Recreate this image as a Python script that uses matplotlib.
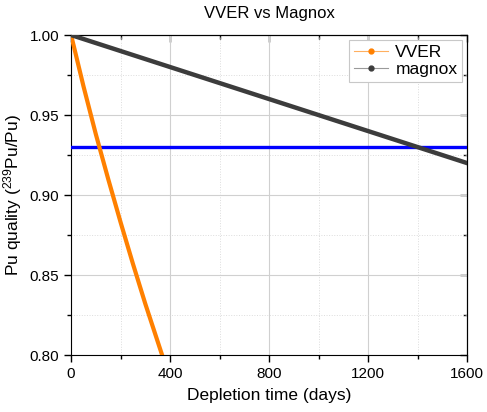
import numpy as np
import matplotlib.pyplot as plt
from matplotlib.ticker import MultipleLocator
from matplotlib.lines import Line2D

plt.rcParams['font.family'] = ['Liberation Sans', 'DejaVu Sans']
plt.rcParams['mathtext.default'] = 'regular'

# data
vver_days = [0, 50, 100, 150, 200, 250, 300, 370]
vver_quality = [1.0, 0.968, 0.938, 0.910, 0.883, 0.857, 0.832, 0.799]
magnox_days = [0, 200, 400, 600, 800, 1000, 1200, 1400, 1600]
magnox_quality = [1.0, 0.990, 0.980, 0.970, 0.960, 0.950, 0.940, 0.930, 0.920]
threshold = 0.93

fig = plt.figure(figsize=(4.87, 4.12), dpi=100)
ax = fig.add_axes([0.146, 0.138, 0.813, 0.777])

ax.axhline(threshold, color="#0000FF", lw=2.4, zorder=3)
ax.plot(vver_days, vver_quality, color="#FF8000", lw=3.0, zorder=4)
ax.plot(magnox_days, magnox_quality, color="#3C3C3C", lw=3.2, zorder=4)

ax.set_xlim(0, 1600)
ax.set_ylim(0.80, 1.00)
ax.xaxis.set_major_locator(MultipleLocator(400))
ax.xaxis.set_minor_locator(MultipleLocator(200))
ax.yaxis.set_major_locator(MultipleLocator(0.05))
ax.yaxis.set_minor_locator(MultipleLocator(0.025))
ax.yaxis.set_major_formatter(plt.FormatStrFormatter("%.2f"))

ax.grid(True, which="major", color="#d0d0d0", lw=0.8)
ax.grid(True, which="minor", color="#dcdcdc", lw=0.7, ls=":")
ax.set_axisbelow(True)

ax.tick_params(which="both", direction="out", labelsize=11, top=False, right=False)
ax.tick_params(which="major", length=5, width=1)
ax.tick_params(which="minor", length=3, width=1)
ax2 = ax.secondary_xaxis("top")
ax2.set_xticks(np.arange(0, 1601, 400))
ax2.xaxis.set_minor_locator(MultipleLocator(200))
ax2.tick_params(which="both", direction="in", labeltop=False)
ax2.tick_params(which="major", length=5, width=1)
ax2.tick_params(which="minor", length=3, width=1)
ay2 = ax.secondary_yaxis("right")
ay2.yaxis.set_major_locator(MultipleLocator(0.05))
ay2.yaxis.set_minor_locator(MultipleLocator(0.025))
ay2.tick_params(which="both", direction="in", labelright=False)
ay2.tick_params(which="major", length=5, width=1)
ay2.tick_params(which="minor", length=3, width=1)

ax.set_xlabel("Depletion time (days)", fontsize=12.5, labelpad=5)
ax.set_ylabel("Pu quality ($^{239}$Pu/Pu)", fontsize=12.5, labelpad=4)
ax.set_title("VVER vs Magnox", fontsize=12, pad=12)

handles = [
    Line2D([], [], color="#FFB060", lw=0.8, marker="o", ms=3.5,
           markerfacecolor="#FF8000", markeredgecolor="#FF8000"),
    Line2D([], [], color="#9a9a9a", lw=0.8, marker="o", ms=3.5,
           markerfacecolor="#3C3C3C", markeredgecolor="#3C3C3C"),
]
leg = ax.legend(handles, ["VVER", "magnox"], loc="upper right", fontsize=12.5,
                fancybox=False, edgecolor="#c8c8c8", framealpha=1,
                handlelength=2.0, borderpad=0.25, labelspacing=0.15,
                handletextpad=0.4, borderaxespad=0.3)
leg.get_frame().set_linewidth(0.8)

fig.savefig("out.png", dpi=100)
